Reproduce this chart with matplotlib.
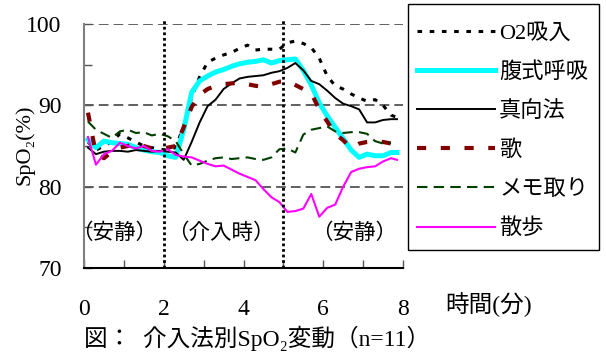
import numpy as np
import matplotlib
matplotlib.use('Agg')
import matplotlib.pyplot as plt
from matplotlib.patches import Rectangle

plt.rcParams['font.family'] = ['Liberation Serif', 'Noto Sans CJK JP', 'DejaVu Sans']

# time (min)
time_min = [0.1, 0.3, 0.5, 0.7, 0.9, 1.1, 1.3, 1.5, 1.7, 1.9,
            2.1, 2.3, 2.5, 2.7, 2.9, 3.1, 3.3, 3.5, 3.7, 3.9,
            4.1, 4.3, 4.5, 4.7, 4.9, 5.1, 5.3, 5.5, 5.7, 5.9,
            6.1, 6.3, 6.5, 6.7, 6.9, 7.1, 7.3, 7.5, 7.7, 7.85]

o2 = [85.5, 84.5, 85.0, 85.5, 86.5, 86.0, 85.5, 85.0, 84.8, 84.6,
      84.5, 84.8, 87.5, 91.0, 93.5, 95.3, 95.8, 96.2, 96.5, 97.0,
      97.4, 96.8, 96.9, 96.9, 96.9, 97.7, 97.9, 97.6, 97.1, 95.8,
      93.6, 92.4, 92.0, 91.4, 90.9, 90.5, 90.7, 90.0, 88.8, 88.5]

fukushiki = [85.8, 84.8, 85.6, 85.4, 85.3, 85.2, 84.8, 84.5, 84.3, 84.2,
             83.8, 83.6, 87.0, 91.6, 93.0, 93.6, 94.1, 94.4, 94.8, 95.1,
             95.3, 95.4, 95.6, 95.2, 95.5, 95.6, 95.7, 94.3, 92.5, 90.3,
             88.7, 87.3, 85.9, 84.5, 83.6, 84.0, 83.8, 83.8, 84.2, 84.2]

makko = [84.8, 84.0, 84.3, 84.4, 84.4, 84.3, 84.5, 84.4, 84.3, 84.4,
         84.3, 84.2, 83.3, 85.5, 87.9, 89.9, 90.7, 92.0, 92.7, 93.3,
         93.5, 93.6, 93.7, 94.0, 94.2, 94.6, 95.2, 94.3, 93.0, 92.6,
         91.8, 90.9, 90.2, 89.9, 89.5, 87.9, 87.9, 88.2, 88.3, 88.3]

uta = [89.1, 84.0, 83.5, 84.3, 84.8, 85.0, 85.4, 85.0, 84.7, 84.6,
       84.8, 85.0, 87.3, 89.8, 91.3, 92.0, 92.4, 92.6, 92.7, 92.8,
       92.6, 92.4, 92.3, 92.6, 92.9, 93.0, 92.5, 92.0, 91.5, 89.5,
       88.0, 86.5, 85.7, 84.8, 85.3, 85.5, 85.6, 85.5, 85.3, np.nan]

memo = [88.0, 87.0, 86.5, 86.0, 86.8, 87.0, 86.6, 86.7, 86.3, 86.5,
        86.2, 85.6, 84.0, 82.6, 82.8, 83.2, 83.5, 83.6, 83.4, 83.5,
        83.6, 83.4, 83.3, 83.6, 84.6, 84.7, 84.2, 86.4, 87.0, 87.2,
        87.4, 86.8, 86.6, 86.7, 86.7, 86.5, 85.6, 85.3, 85.4, np.nan]

sanpo = [86.1, 82.7, 84.0, 84.4, 85.4, 85.0, 84.7, 85.0, 84.4, 84.3,
         84.6, 83.9, 83.7, 83.6, 83.2, 82.8, 82.5, 82.6, 82.1, 81.6,
         81.2, 80.8, 79.7, 78.7, 78.1, 76.9, 77.0, 77.3, 79.1, 76.3,
         77.4, 77.8, 80.0, 81.8, 82.2, 82.4, 82.5, 83.1, 83.5, 83.3]

phase_lines = [2, 5]
phase_labels = ['（安静）', '（介入時）', '（安静）']
phase_label_x = [0.76, 3.44, 6.78]

fig = plt.figure(figsize=(6.06, 3.54), dpi=100)
ax = fig.add_axes([84/606, 1 - 268/354, (403 - 84)/606, (268 - 24)/354])

l_o2, = ax.plot(time_min, o2, color='black', lw=2.2, linestyle=(0, (1.5, 2.5)), label='O2吸入')
l_fk, = ax.plot(time_min, fukushiki, color='#00FFFF', lw=3.6, label='腹式呼吸')
l_mk, = ax.plot(time_min, makko, color='black', lw=1.4, label='真向法')
l_ut, = ax.plot(time_min, uta, color='#800000', lw=3.0, linestyle=(0, (2.2, 3.5)), label='歌')
l_me, = ax.plot(time_min, memo, color='#003F00', lw=1.5, linestyle=(0, (5, 3)), label='メモ取り')
l_sp, = ax.plot(time_min, sanpo, color='#FF00FF', lw=1.5, label='散歩')

for xv in phase_lines:
    ax.axvline(xv, ymin=0, ymax=1.02, color='black', lw=2.0, linestyle=(0, (1, 1)), clip_on=False)

for lab, xv in zip(phase_labels, phase_label_x):
    ax.text(xv, 74.2, lab, fontsize=15.5, ha='center', va='center')

ax.set_xlim(0, 8)
ax.set_ylim(70, 100)
ax.set_xticks([0, 2, 4, 6, 8])
ax.set_xticks([1, 3, 5, 7], minor=True)
ax.set_yticks([70, 80, 90, 100])
ax.set_yticks([75, 85, 95], minor=True)
ax.tick_params(axis='both', which='both', direction='in', length=6, width=1, color='#555555', labelsize=17)
ax.tick_params(axis='x', which='major', pad=22)
ax.tick_params(axis='y', which='major', pad=16)

ax.grid(axis='y', which='major', color='#606060', lw=1.4, linestyle=(0, (5, 2.6)))
ax.set_axisbelow(True)

ax.spines['top'].set_visible(False)
ax.spines['right'].set_visible(False)
ax.spines['left'].set_color('#808080')
ax.spines['left'].set_linewidth(1.5)
ax.spines['bottom'].set_color('black')
ax.spines['bottom'].set_linewidth(1.5)

fig.text(25/606, 1 - 145/354, 'SpO₂(%)', rotation=90, fontsize=16, ha='center', va='center')
fig.text(445/606, 1 - 305/354, '時間(分)', fontsize=17, ha='left', va='center')
fig.text(84/606, 1 - 338/354, '図：  介入法別SpO₂変動（n=11）', fontsize=17, ha='left', va='center')

# legend box drawn separately so the inner padding can differ from the frame
fig.patches.append(Rectangle((408/606, 1 - 250/354), 191/606, 246/354,
                             transform=fig.transFigure, fill=False,
                             edgecolor='black', lw=1.0))
leg = fig.legend(handles=[l_o2, l_fk, l_mk, l_ut, l_me, l_sp],
                 loc='upper left', bbox_to_anchor=(408/606, 1 - 14/354),
                 fontsize=16, frameon=False,
                 handlelength=3.5, handletextpad=0.2, labelspacing=0.83,
                 borderpad=0.4, borderaxespad=0)

plt.savefig('out.png', dpi=100)
